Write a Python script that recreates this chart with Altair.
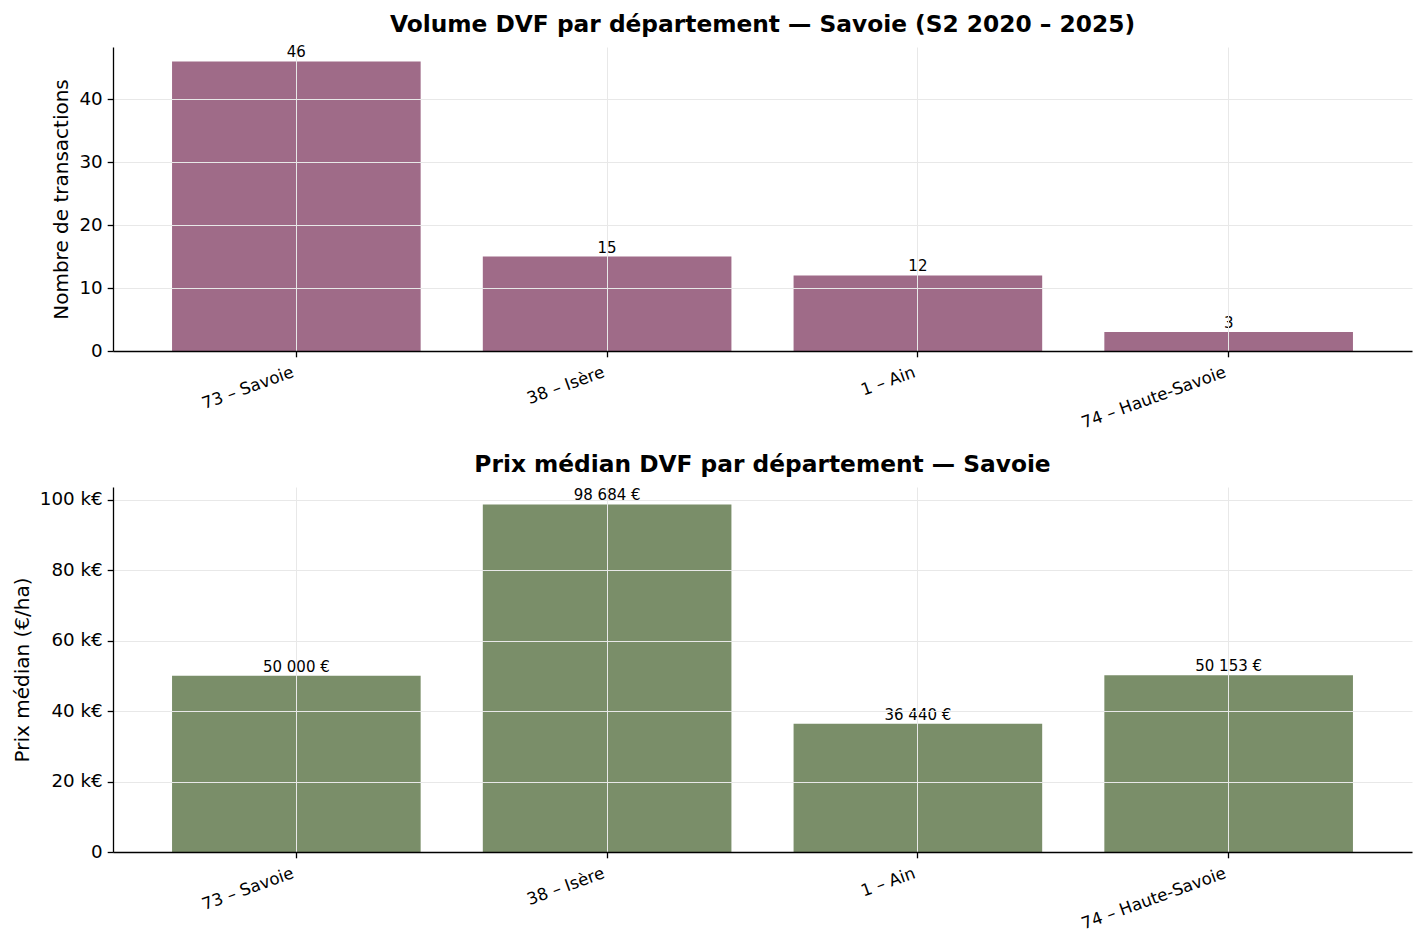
import altair as alt
import pandas as pd

departements = ["73 – Savoie", "38 – Isère", "1 – Ain", "74 – Haute-Savoie"]
transactions = [46, 15, 12, 3]
prix_medians = [50000, 98684, 36440, 50153]


def fr_eur(v):
    return f"{v:,}".replace(",", " ") + " €"


df = pd.DataFrame({"dept": departements, "n": transactions, "prix": prix_medians})
df["n_label"] = df["n"].astype(str)
df["prix_label"] = [fr_eur(v) for v in prix_medians]

FONT = "DejaVu Sans"
GRID = "#e8e8e8"
TICK_FS = 18.3
XTICK_FS = 16.7
VAL_FS = 15


def x_enc():
    return alt.X(
        "dept:N",
        sort=departements,
        scale=alt.Scale(domain=departements, paddingInner=0.2, paddingOuter=0.19),
        axis=alt.Axis(
            title=None, labelAngle=-20, labelAlign="right", labelBaseline="top",
            labelFontSize=XTICK_FS, labelColor="black", labelPadding=7, labelOffset=-6,
            tickColor="black", tickSize=5.8, tickWidth=1.3,
            domainColor="black", domainWidth=1.3,
            grid=True, gridColor=GRID, gridWidth=1, bandPosition=0.5, zindex=1,
        ),
    )


def y_axis(title, values, label_expr=None):
    kw = dict(
        title=title, titleFontSize=20, titleFontWeight="normal", titleColor="black",
        titlePadding=7, values=values, labelFontSize=TICK_FS, labelColor="black",
        labelPadding=5, tickColor="black", tickSize=5.8, tickWidth=1.3,
        domainColor="black", domainWidth=1.3, grid=True, gridColor=GRID,
        gridWidth=1, zindex=1,
    )
    if label_expr:
        kw["labelExpr"] = label_expr
    return alt.Axis(**kw)


base_top = alt.Chart(df)
bars_top = base_top.mark_bar(color="#9f6b88").encode(
    x=x_enc(),
    y=alt.Y("n:Q", scale=alt.Scale(domain=[0, max(transactions) * 1.05], nice=False),
            axis=y_axis("Nombre de transactions", [0, 10, 20, 30, 40])),
)
text_top = base_top.mark_text(baseline="bottom", dy=-1, fontSize=VAL_FS, color="black").encode(
    x=alt.X("dept:N", sort=departements), y="n:Q", text="n_label:N"
)
top = alt.layer(bars_top, text_top).properties(
    width=1299, height=304,
    title=alt.Title("Volume DVF par département — Savoie (S2 2020 – 2025)",
                    fontSize=23.3, fontWeight="bold", color="black", offset=8, anchor="middle"),
)

base_bot = alt.Chart(df)
bars_bot = base_bot.mark_bar(color="#7a8e69").encode(
    x=x_enc(),
    y=alt.Y("prix:Q", scale=alt.Scale(domain=[0, max(prix_medians) * 1.05], nice=False),
            axis=y_axis("Prix médian (€/ha)", [0, 20000, 40000, 60000, 80000, 100000],
                        "datum.value == 0 ? '0' : format(datum.value / 1000, 'd') + ' k€'")),
)
text_bot = base_bot.mark_text(baseline="bottom", dy=-1, fontSize=VAL_FS, color="black").encode(
    x=alt.X("dept:N", sort=departements), y="prix:Q", text="prix_label:N"
)
bottom = alt.layer(bars_bot, text_bot).properties(
    width=1299, height=365,
    title=alt.Title("Prix médian DVF par département — Savoie",
                    fontSize=23.3, fontWeight="bold", color="black", offset=10, anchor="middle"),
)

chart = alt.vconcat(top, bottom, spacing=20).properties(
    padding={"left": 12, "top": 13, "right": 5, "bottom": 5}
).configure(font=FONT).configure_view(stroke=None)

chart.save("out.html", embed_options={"renderer": "svg", "actions": False})
